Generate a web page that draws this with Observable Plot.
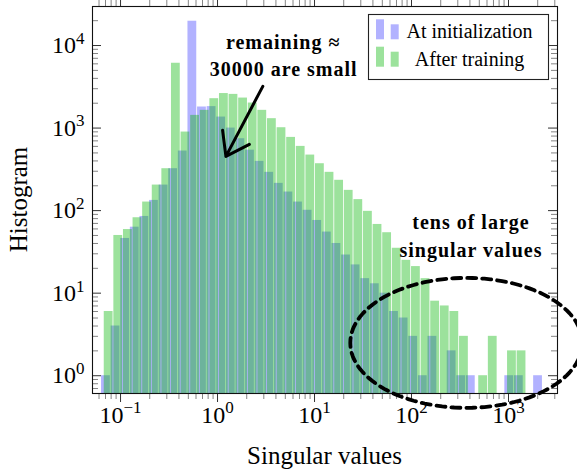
<!DOCTYPE html>
<html><head><meta charset="utf-8">
<script src="https://cdn.jsdelivr.net/npm/d3@7"></script>
<script src="https://cdn.jsdelivr.net/npm/@observablehq/plot@0.6"></script>
<style>
body{margin:0;background:#fff;}
#chart{width:577px;height:471px;}
</style></head><body><div id="chart"></div>
<script>
// ---- data ----
const initCounts = [1,4,46,63,85,133,204,322,527,19700,1800,1820,1360,1000,743,540,395,291,214,168,127,101,76,55,40,29,22,15,13,10,6,5,3,1,3,0,2,1,1,0,0,0,1,1,0,1];
const trainCounts = [6,50,59,82,127,204,322,6100,895,1425,1640,2270,2620,2560,2310,2010,1640,1300,1010,771,600,471,370,291,233,176,136,98,68,54,35,25,21,15,8,7,6,3,0,1,3,0,2,2];
const initLogStart = -1.2;     // log10 of first bin's left edge
const trainLogStart = -1.172;
const logBinWidth = 0.099;     // bins are equal in log10
const seriesNames = ["At initialization", "After training"];
const xMajorTicks = [0.1, 1, 10, 100, 1000];
const xTickExponents = ["−1", "0", "1", "2", "3"];
const yMajorTicks = [1, 10, 100, 1000, 10000];
const yTickExponents = ["0", "1", "2", "3", "4"];
const xDomain = [0.0514, 3200];
const yDomain = [0.609, 29700];
const annotationSmall = ["remaining ≈", "30000 are small"];
const annotationSmallPos = [[4.75, 10900], [4.8, 5100]];
const annotationLarge = ["tens of large", "singular values"];
const annotationLargePos = [[410, 72], [410, 33]];
const arrowFrom = [2.93, 3200];
const arrowTo = [1.22, 454];
const ellipseCenter = [367, 2.5];      // data coords
const ellipseRadiiDecades = [1.196, 0.787];

// ---- build tables ----
function binTable(counts, start, series) {
  return counts.map((c, i) => ({
    series,
    x1: Math.pow(10, start + i * logBinWidth),
    x2: Math.pow(10, start + (i + 1) * logBinWidth),
    count: c
  })).filter(d => d.count > 0);
}
const initBins = binTable(initCounts, initLogStart, seriesNames[0]);
const trainBins = binTable(trainCounts, trainLogStart, seriesNames[1]);

function minorTicks(domain) {
  const out = [];
  for (let k = -3; k <= 5; k++) for (let m = 2; m <= 9; m++) {
    const v = m * Math.pow(10, k);
    if (v >= domain[0] && v <= domain[1]) out.push(v);
  }
  return out;
}
const xMinorTicks = minorTicks(xDomain);
const yMinorTicks = minorTicks(yDomain);

const ellipsePts = d3.range(0, 121).map(i => {
  const t = i / 120 * 2 * Math.PI;
  return {
    x: Math.pow(10, Math.log10(ellipseCenter[0]) + ellipseRadiiDecades[0] * Math.cos(t)),
    y: Math.pow(10, Math.log10(ellipseCenter[1]) + ellipseRadiiDecades[1] * Math.sin(t))
  };
});

const W = 577, H = 471, mL = 92, mR = 20, mT = 6, mB = 78;
const FW = W - mL - mR, FH = H - mT - mB;
const serif = "'Liberation Serif', 'DejaVu Serif', serif";
const blue = "#0000ff", green = "#00b500";
const blueOp = 0.3, greenOp = 0.39;

const svg = Plot.plot({
  width: W, height: H,
  marginLeft: mL, marginRight: mR, marginTop: mT, marginBottom: mB,
  style: {fontFamily: serif, fontSize: "24px", color: "black", background: "white"},
  x: {type: "log", domain: xDomain},
  y: {type: "log", domain: yDomain},
  marks: [
    Plot.rectY(initBins, {x1: "x1", x2: "x2", y1: yDomain[0], y2: "count", fill: blue, fillOpacity: blueOp, insetLeft: 0.4, insetRight: 0.4}),
    Plot.rectY(trainBins, {x1: "x1", x2: "x2", y1: yDomain[0], y2: "count", fill: green, fillOpacity: greenOp, insetLeft: 0.4, insetRight: 0.4}),
    // y ticks inside, left & right
    Plot.ruleY(yMajorTicks, {y: d => d, insetRight: FW - 9, stroke: "#333", strokeWidth: 1}),
    Plot.ruleY(yMinorTicks, {y: d => d, insetRight: FW - 6, stroke: "#666", strokeWidth: 0.8}),
    Plot.ruleY(yMajorTicks, {y: d => d, insetLeft: FW - 9, stroke: "#333", strokeWidth: 1}),
    Plot.ruleY(yMinorTicks, {y: d => d, insetLeft: FW - 6, stroke: "#666", strokeWidth: 0.8}),
    // x ticks outside, bottom & top
    Plot.ruleX(xMajorTicks, {x: d => d, insetTop: FH, insetBottom: -9, stroke: "#333", strokeWidth: 1}),
    Plot.ruleX(xMinorTicks, {x: d => d, insetTop: FH, insetBottom: -6, stroke: "#666", strokeWidth: 0.8}),
    Plot.ruleX(xMajorTicks, {x: d => d, insetTop: -9, insetBottom: FH, stroke: "#333", strokeWidth: 1}),
    Plot.ruleX(xMinorTicks, {x: d => d, insetTop: -6, insetBottom: FH, stroke: "#666", strokeWidth: 0.8}),
    Plot.axisX({anchor: "bottom", ticks: xMajorTicks, tickSize: 0, tickPadding: 12, fontSize: 24, label: null,
      tickFormat: d => "10^" + xTickExponents[xMajorTicks.indexOf(d)]}),
    Plot.axisY({anchor: "left", ticks: yMajorTicks, tickSize: 0, tickPadding: 8, fontSize: 24, label: null,
      tickFormat: d => "10^" + yTickExponents[yMajorTicks.indexOf(d)]}),
    Plot.frame({stroke: "#111", strokeWidth: 1.1}),
    Plot.arrow([{x1: arrowFrom[0], y1: arrowFrom[1], x2: arrowTo[0], y2: arrowTo[1]}],
      {x1: "x1", y1: "y1", x2: "x2", y2: "y2", stroke: "black", strokeWidth: 3, headLength: 14, headAngle: 70}),
    Plot.text(annotationSmall, {x: (d, i) => annotationSmallPos[i][0], y: (d, i) => annotationSmallPos[i][1], text: d => d,
      fontWeight: "bold", fontSize: 20, fontFamily: serif, fill: "black"}),
    Plot.text(annotationLarge, {x: (d, i) => annotationLargePos[i][0], y: (d, i) => annotationLargePos[i][1], text: d => d,
      fontWeight: "bold", fontSize: 20, fontFamily: serif, fill: "black"}),
    Plot.line(ellipsePts, {x: "x", y: "y", curve: "linear-closed", stroke: "black", strokeWidth: 3.8, strokeDasharray: "9,6"})
  ]
});

// superscript exponents on tick labels
d3.select(svg).selectAll('g[aria-label="x-axis tick label"] text, g[aria-label="y-axis tick label"] text').each(function () {
  const parts = this.textContent.split("^");
  if (parts.length < 2) return;
  this.textContent = parts[0];
  const ts = document.createElementNS("http://www.w3.org/2000/svg", "tspan");
  ts.setAttribute("font-size", "17px");
  ts.setAttribute("dy", "-0.55em");
  ts.textContent = parts[1];
  this.appendChild(ts);
});
// wider tracking for bold annotations (closer to the reference's extended bold face)
d3.select(svg).selectAll('g[aria-label="text"] text').attr("letter-spacing", "1px");

// axis titles
const s = d3.select(svg);
s.append("text").attr("x", mL + FW / 2).attr("y", 464).attr("text-anchor", "middle")
  .attr("font-family", serif).attr("font-size", 25).attr("fill", "black").text("Singular values");
s.append("text").attr("transform", `translate(27,${mT + FH / 2}) rotate(-90)`).attr("text-anchor", "middle")
  .attr("font-family", serif).attr("font-size", 25).attr("fill", "black").text("Histogram");

// legend
const lg = s.append("g");
lg.append("rect").attr("x", 368.5).attr("y", 14.5).attr("width", 180).attr("height", 65)
  .attr("fill", "white").attr("stroke", "#222").attr("stroke-width", 1.1);
const legendItems = [{name: seriesNames[0], color: blue, op: blueOp, base: 39.3}, {name: seriesNames[1], color: green, op: greenOp, base: 66.7}];
legendItems.forEach(it => {
  lg.append("rect").attr("x", 376).attr("y", it.base - 20).attr("width", 8).attr("height", 20).attr("fill", it.color).attr("fill-opacity", it.op);
  lg.append("rect").attr("x", 390.7).attr("y", it.base - 15).attr("width", 8).attr("height", 15).attr("fill", it.color).attr("fill-opacity", it.op);
  lg.append("text").attr("x", 469.5).attr("y", it.base - 1).attr("text-anchor", "middle")
    .attr("font-family", serif).attr("font-size", 20).attr("fill", "black").text(it.name);
});

document.getElementById("chart").appendChild(svg);
</script>
</body></html>
